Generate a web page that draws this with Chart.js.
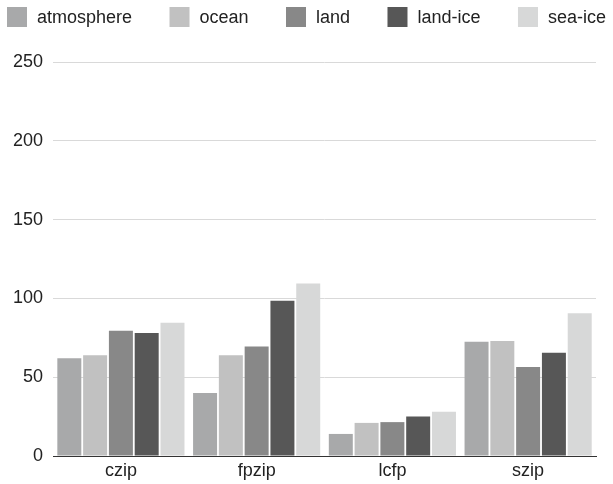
<!DOCTYPE html>
<html>
<head>
<meta charset="utf-8">
<script src="https://cdn.jsdelivr.net/npm/chart.js@4/dist/chart.umd.min.js"></script>
<style>
  html, body { margin: 0; padding: 0; background: #fff; }
  #wrap { width: 613px; height: 484px; }
</style>
</head>
<body>
<div id="wrap"><canvas id="chart_compressors"></canvas></div>
<script>
var categories = ['czip', 'fpzip', 'lcfp', 'szip'];
var atmosphere = [62, 40, 14, 72.5];
var ocean = [64, 64, 21, 73];
var land = [79.5, 69.5, 21.5, 56.5];
var landIce = [78, 98.5, 25, 65.5];
var seaIce = [84.5, 109.5, 28, 90.5];
var yTicks = [0, 50, 100, 150, 200, 250];

var FONT = '"Liberation Sans", Arial, Helvetica, sans-serif';

// legend spread across the full width, like the original
var spreadLegend = {
    id: 'spreadLegend',
    afterDraw: (chart) => {
        const ctx = chart.ctx;
        const box = 20, gap = 10, edge = 7, top = 7;
        ctx.save();
        ctx.font = '18px ' + FONT;
        ctx.textBaseline = 'middle';
        const sets = chart.data.datasets;
        const widths = sets.map(d => box + gap + ctx.measureText(d.label).width);
        const total = widths.reduce((a, b) => a + b, 0);
        const space = (chart.width - 2 * edge - total) / (sets.length - 1);
        let x = edge;
        sets.forEach((d, i) => {
            ctx.fillStyle = d.backgroundColor;
            ctx.fillRect(x, top, box, box);
            ctx.fillStyle = '#222';
            ctx.fillText(d.label, x + box + gap, top + box / 2 + 1);
            x += widths[i] + space;
        });
        ctx.restore();
    }
};

var chart_compressors = new Chart(document.getElementById('chart_compressors'), {
    type: 'bar',
    data: {
        labels: categories,
        datasets: [
            { label: 'atmosphere', data: atmosphere, backgroundColor: '#a8a9aa' },
            { label: 'ocean', data: ocean, backgroundColor: '#c1c1c1' },
            { label: 'land', data: land, backgroundColor: '#888888' },
            { label: 'land-ice', data: landIce, backgroundColor: '#575757' },
            { label: 'sea-ice', data: seaIce, backgroundColor: '#d7d8d8' }
        ]
    },
    options: {
        animation: false,
        responsive: true,
        maintainAspectRatio: false,
        categoryPercentage: 0.95,
        barPercentage: 0.93,
        layout: {
            padding: { top: 62, left: 3, right: 17, bottom: -2 }
        },
        plugins: {
            legend: { display: false },
            tooltip: { enabled: false }
        },
        scales: {
            x: {
                grid: { display: false, drawTicks: false },
                border: { display: true, color: '#333', width: 1 },
                ticks: { color: '#222', padding: 6, font: { family: FONT, size: 18, lineHeight: 1 } }
            },
            y: {
                min: 0,
                max: 250,
                afterBuildTicks: (axis) => {
                    axis.ticks = yTicks.map(v => ({ value: v }));
                },
                grid: { color: '#d9d9d9', lineWidth: 1, drawTicks: false },
                border: { display: false },
                ticks: { color: '#222', padding: 10, font: { family: FONT, size: 18 } }
            }
        }
    },
    plugins: [spreadLegend]
});
</script>
</body>
</html>
